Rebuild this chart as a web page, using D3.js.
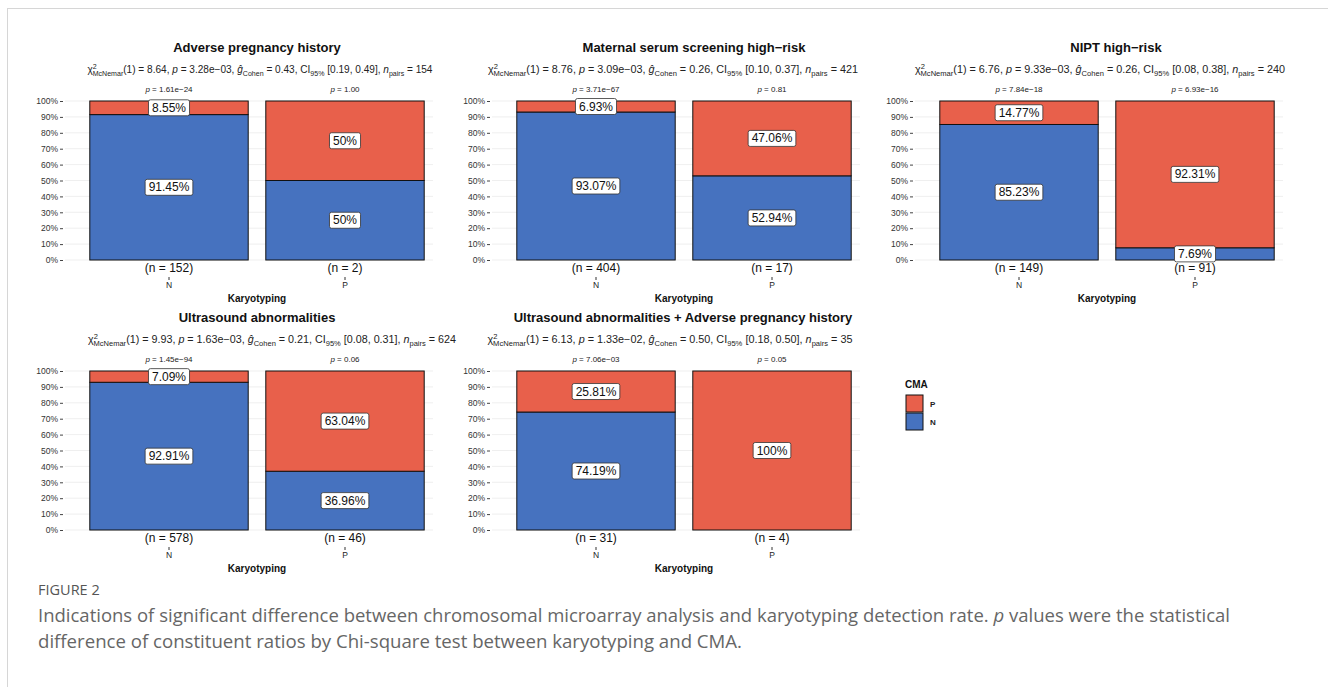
<!DOCTYPE html>
<html>
<head>
<meta charset="utf-8">
<script src="https://cdn.jsdelivr.net/npm/d3@7"></script>
<style>
  body { margin: 0; background: #fff; }
  svg { font-family: "Liberation Sans", Arial, sans-serif; }
</style>
</head>
<body>
<div id="chart"></div>
<script>
// Figure 2: CMA vs karyotyping, stacked percentage bars per indication

// ---- data ----
const titles = [
    "Adverse pregnancy history",
    "Maternal serum screening high\u2212risk",
    "NIPT high\u2212risk",
    "Ultrasound abnormalities",
    "Ultrasound abnormalities + Adverse pregnancy history"
];
const chiSq = ["8.64", "8.76", "6.76", "9.93", "6.13"];
const pMcNemar = ["3.28e\u221203", "3.09e\u221203", "9.33e\u221203", "1.63e\u221203", "1.33e\u221202"];
const gCohen = ["0.43", "0.26", "0.26", "0.21", "0.50"];
const ci95 = ["[0.19, 0.49]", "[0.10, 0.37]", "[0.08, 0.38]", "[0.08, 0.31]", "[0.18, 0.50]"];
const nPairs = ["154", "421", "240", "624", "35"];

const karyotyping = ["N", "P"];
const cmaLevels = ["P", "N"];
// percentage of CMA = P and CMA = N within each karyotyping group
const cmaP = [[8.55, 50], [6.93, 47.06], [14.77, 92.31], [7.09, 63.04], [25.81, 100]];
const cmaN = [[91.45, 50], [93.07, 52.94], [85.23, 7.69], [92.91, 36.96], [74.19, 0]];
const nCounts = [[152, 2], [404, 17], [149, 91], [578, 46], [31, 4]];
const pValues = [
    ["1.61e\u221224", "1.00"],
    ["3.71e\u221267", "0.81"],
    ["7.84e\u221218", "6.93e\u221216"],
    ["1.45e\u221294", "0.06"],
    ["7.06e\u221203", "0.05"]
];
const yTicks = [0, 10, 20, 30, 40, 50, 60, 70, 80, 90, 100];

const colors = { P: "#E8604B", N: "#4672BF" };

// ---- layout (panel boxes) ----
const panels = [
    { x0: 81, top: 101, titleX: 257, subX: 260, subW: 345 },
    { x0: 508, top: 101, titleX: 694, subX: 673, subW: 370 },
    { x0: 931, top: 101, titleX: 1116, subX: 1100, subW: 370 },
    { x0: 81, top: 371, titleX: 257, subX: 272, subW: 368 },
    { x0: 508, top: 371, titleX: 683, subX: 670, subW: 365 }
];
const panelW = 352, panelH = 160;

const svg = d3.select("#chart").append("svg")
    .attr("width", 1328)
    .attr("height", 687);

svg.append("rect")
    .attr("x", 7.5).attr("y", 8.5)
    .attr("width", 1340).attr("height", 700)
    .attr("fill", "#fff")
    .attr("stroke", "#d6d6d6");

// adds a chunk of text to the subtitle, tracking the baseline shift
function addSubtitle(g, i, pl, y) {
    const t = g.append("text")
        .attr("x", pl.subX).attr("y", y)
        .attr("text-anchor", "middle")
        .attr("font-size", 10)
        .attr("fill", "#222");
    let shift = 0;
    function piece(str, opts = {}) {
        const dy = (opts.dy || 0) - shift;
        shift = opts.dy || 0;
        const s = t.append("tspan").text(str).attr("dy", dy);
        if (opts.small) s.attr("font-size", 7);
        if (opts.italic) s.attr("font-style", "italic");
        if (opts.dx) s.attr("dx", opts.dx);
    }
    piece("\u03C7");
    piece("2", { dy: -4, small: true });
    piece("McNemar", { dy: 3, small: true, dx: -4 });
    piece("(1) = " + chiSq[i] + ", ");
    piece("p", { italic: true });
    piece(" = " + pMcNemar[i] + ", ");
    piece("\u011D", { italic: true });
    piece("Cohen", { dy: 3, small: true });
    piece(" = " + gCohen[i] + ", CI");
    piece("95%", { dy: 3, small: true });
    piece(" " + ci95[i] + ", ");
    piece("n", { italic: true });
    piece("pairs", { dy: 3, small: true });
    piece(" = " + nPairs[i]);
    t.attr("textLength", pl.subW).attr("lengthAdjust", "spacingAndGlyphs");
}

function labelBox(g, x, y, str) {
    const lg = g.append("g");
    const txt = lg.append("text")
        .attr("x", x).attr("y", y)
        .attr("text-anchor", "middle")
        .attr("dominant-baseline", "central")
        .attr("font-size", 12)
        .attr("fill", "#111")
        .text(str);
    const w = txt.node().getComputedTextLength();
    lg.insert("rect", "text")
        .attr("x", x - w / 2 - 3.5).attr("y", y - 8)
        .attr("width", w + 7).attr("height", 16)
        .attr("rx", 2)
        .attr("fill", "#fff")
        .attr("stroke", "#333")
        .attr("stroke-width", 0.8);
}

panels.forEach((pl, i) => {
    const g = svg.append("g");
    const bottom = pl.top + panelH - 1;
    const x = d3.scaleBand()
        .domain(karyotyping)
        .range([pl.x0, pl.x0 + panelW])
        .paddingInner(0.1)
        .paddingOuter(0.05);
    const y = d3.scaleLinear().domain([0, 100]).range([bottom, pl.top]);

    // grid
    g.selectAll(".grid")
        .data(yTicks)
        .enter().append("line")
        .attr("x1", pl.x0 - 16).attr("x2", pl.x0 + panelW)
        .attr("y1", d => y(d)).attr("y2", d => y(d))
        .attr("stroke", "#ebebeb").attr("stroke-width", 0.8);

    // y axis
    const yAxis = d3.axisLeft(y)
        .tickValues(yTicks)
        .tickFormat(d => d + "%")
        .tickSize(3)
        .tickPadding(2);
    const ya = g.append("g")
        .attr("transform", `translate(${pl.x0 - 18},0)`)
        .call(yAxis);
    ya.select(".domain").remove();
    ya.selectAll("line").attr("stroke", "#444");
    ya.selectAll("text")
        .attr("font-size", 8.5)
        .attr("fill", "#333")
        .attr("font-family", "Liberation Sans, Arial, sans-serif");

    // stacked bars
    karyotyping.forEach((k, j) => {
        const nVal = cmaN[i][j], pVal = cmaP[i][j];
        const bx = x(k), bw = x.bandwidth();
        if (nVal > 0) {
            g.append("rect")
                .attr("x", bx).attr("y", y(nVal))
                .attr("width", bw).attr("height", y(0) - y(nVal))
                .attr("fill", colors.N).attr("stroke", "#111").attr("stroke-width", 1);
        }
        if (pVal > 0) {
            g.append("rect")
                .attr("x", bx).attr("y", y(100))
                .attr("width", bw).attr("height", y(nVal) - y(100))
                .attr("fill", colors.P).attr("stroke", "#111").attr("stroke-width", 1);
        }
        const cx = bx + bw / 2;
        if (pVal > 0) labelBox(g, cx, y(nVal + pVal / 2), pVal + "%");
        if (nVal > 0) labelBox(g, cx, y(nVal / 2), nVal + "%");

        // p label above bar
        const pt = g.append("text")
            .attr("x", cx).attr("y", pl.top - 9)
            .attr("text-anchor", "middle")
            .attr("font-size", 8)
            .attr("fill", "#222");
        pt.append("tspan").attr("font-style", "italic").text("p");
        pt.append("tspan").text(" = " + pValues[i][j]);

        // sample size below bar
        g.append("text")
            .attr("x", cx).attr("y", bottom + 12)
            .attr("text-anchor", "middle")
            .attr("font-size", 12)
            .attr("fill", "#111")
            .text("(n = " + nCounts[i][j] + ")");
        // x tick + category
        g.append("line")
            .attr("x1", cx).attr("x2", cx)
            .attr("y1", bottom + 17).attr("y2", bottom + 20)
            .attr("stroke", "#333");
        g.append("text")
            .attr("x", cx).attr("y", bottom + 28)
            .attr("text-anchor", "middle")
            .attr("font-size", 8.5)
            .attr("fill", "#222")
            .text(k);
    });

    // x axis title
    g.append("text")
        .attr("x", x("N") + (x("P") + x.bandwidth() - x("N")) / 2)
        .attr("y", bottom + 42)
        .attr("text-anchor", "middle")
        .attr("font-size", 10)
        .attr("font-weight", "bold")
        .attr("fill", "#111")
        .text("Karyotyping");

    // title + subtitle
    g.append("text")
        .attr("x", pl.titleX).attr("y", pl.top - 49)
        .attr("text-anchor", "middle")
        .attr("font-size", 13)
        .attr("font-weight", "bold")
        .attr("fill", "#111")
        .text(titles[i]);
    addSubtitle(g, i, pl, pl.top - 28);
});

// legend
const lg = svg.append("g").attr("transform", "translate(906,388)");
lg.append("text")
    .attr("x", -1).attr("y", 0)
    .attr("font-size", 10).attr("font-weight", "bold").attr("fill", "#111")
    .text("CMA");
cmaLevels.forEach((c, k) => {
    lg.append("rect")
        .attr("x", 0).attr("y", 7 + k * 18)
        .attr("width", 17).attr("height", 17)
        .attr("fill", colors[c]).attr("stroke", "#111");
    lg.append("text")
        .attr("x", 24).attr("y", 7 + k * 18 + 9)
        .attr("dominant-baseline", "central")
        .attr("font-size", 8).attr("font-weight", "bold").attr("fill", "#222")
        .text(c);
});

// caption
const cap = svg.append("g").attr("font-family", "'Open Sans', 'Noto Sans', sans-serif");
cap.append("text")
    .attr("x", 38).attr("y", 595)
    .attr("font-size", 14.5).attr("fill", "#555")
    .text("FIGURE 2");
const l1 = cap.append("text")
    .attr("x", 38).attr("y", 622)
    .attr("font-size", 18.4).attr("fill", "#666")
    .attr("textLength", 1192).attr("lengthAdjust", "spacingAndGlyphs");
l1.append("tspan").text("Indications of significant difference between chromosomal microarray analysis and karyotyping detection rate. ");
l1.append("tspan").attr("font-style", "italic").text("p");
l1.append("tspan").text(" values were the statistical");
cap.append("text")
    .attr("x", 38).attr("y", 648)
    .attr("font-size", 18.4).attr("fill", "#666")
    .attr("textLength", 704).attr("lengthAdjust", "spacingAndGlyphs")
    .text("difference of constituent ratios by Chi-square test between karyotyping and CMA.");
</script>
</body>
</html>
